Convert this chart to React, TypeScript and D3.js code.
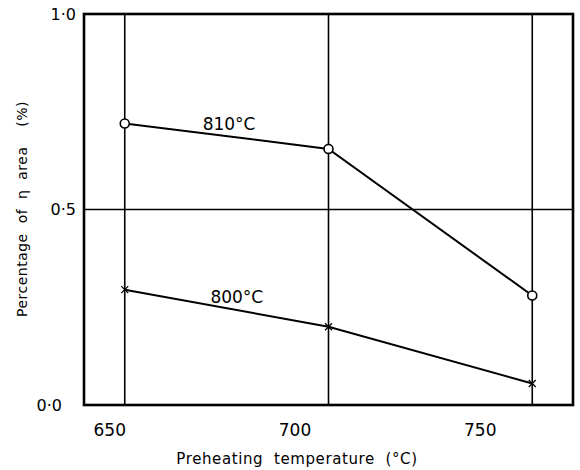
import * as d3 from "d3";

// Preheating temperatures (°C)
const temps = [650, 700, 750];
// Percentage of η area (%) for each heat-treatment temperature
const series810 = [0.72, 0.655, 0.28];
const series800 = [0.295, 0.2, 0.055];
const xTicks = [650, 700, 750];
const yTicks = [0, 0.5, 1.0];
const yTickLabels = ["0·0", "0·5", "1·0"];

export default function App() {
  const width = 580;
  const height = 470;
  const marginLeft = 84;
  const marginRight = 7;
  const marginTop = 14;
  const marginBottom = 65;

  const x = d3.scaleLinear()
    .domain([640, 760])
    .range([marginLeft, width - marginRight]);

  const y = d3.scaleLinear()
    .domain([0, 1])
    .range([height - marginBottom, marginTop]);

  // the printed tick numbers sit a little left of their grid lines, and more so to the right
  const xLabel = d3.scaleLinear()
    .domain([650, 750])
    .range([x(650) - 15, x(750) - 52]);

  const line = d3.line<number>()
    .x((_, i) => x(temps[i]))
    .y(d => y(d));

  const font = "'DejaVu Sans', sans-serif";

  return (
    <svg width={width} height={height} style={{ position: "absolute", left: 0, top: 0, background: "white" }}>
      {/* vertical grid lines */}
      {xTicks.map(t => (
        <line key={t} x1={x(t)} x2={x(t)} y1={y(0)} y2={y(1)} stroke="#000" strokeWidth={1.6} />
      ))}
      {/* horizontal mid line */}
      <line x1={x(640)} x2={x(760)} y1={y(0.5)} y2={y(0.5)} stroke="#000" strokeWidth={1.6} />
      {/* frame */}
      <rect x={x(640)} y={y(1)} width={x(760) - x(640)} height={y(0) - y(1)} fill="none" stroke="#000" strokeWidth={2.6} />

      {/* series lines */}
      <path d={line(series810) || ""} fill="none" stroke="#000" strokeWidth={2} />
      <path d={line(series800) || ""} fill="none" stroke="#000" strokeWidth={2} />

      {/* markers */}
      {series810.map((v, i) => (
        <circle key={i} cx={x(temps[i])} cy={y(v)} r={4.5} fill="#fff" stroke="#000" strokeWidth={1.6} />
      ))}
      {series800.map((v, i) => {
        const cx = x(temps[i]);
        const cy = y(v);
        const s = 3.5;
        return (
          <g key={i} stroke="#000" strokeWidth={1.3}>
            <line x1={cx - s} y1={cy - s} x2={cx + s} y2={cy + s} />
            <line x1={cx - s} y1={cy + s} x2={cx + s} y2={cy - s} />
          </g>
        );
      })}

      {/* series labels */}
      <text x={x(675.6)} y={y(0.703)} fontFamily={font} fontSize={17} textAnchor="middle">810°C</text>
      <text x={x(677.5)} y={y(0.26)} fontFamily={font} fontSize={17} textAnchor="middle">800°C</text>

      {/* y tick labels */}
      {yTicks.map((t, i) => (
        <text key={t} x={t === 0 ? 62 : 76} y={y(t)} dy="0.35em" fontFamily={font} fontSize={16} textAnchor="end">
          {yTickLabels[i]}
        </text>
      ))}

      {/* x tick labels */}
      {xTicks.map(t => (
        <text key={t} x={xLabel(t)} y={y(0) + 25} dy="0.35em" fontFamily={font} fontSize={17} textAnchor="middle">
          {t}
        </text>
      ))}

      {/* axis titles */}
      <text
        x={297}
        y={459}
        dy="0.35em"
        fontFamily={font}
        fontSize={15}
        textAnchor="middle"
        letterSpacing={0.6}
        style={{ whiteSpace: "pre" }}
      >
        {"Preheating  temperature  (°C)"}
      </text>
      <text
        transform={`translate(22,${209}) rotate(-90)`}
        dy="0.35em"
        fontFamily={font}
        fontSize={14}
        textAnchor="middle"
        letterSpacing={0.5}
        style={{ whiteSpace: "pre" }}
      >
        {"Percentage  of  η  area    (%)"}
      </text>
    </svg>
  );
}
